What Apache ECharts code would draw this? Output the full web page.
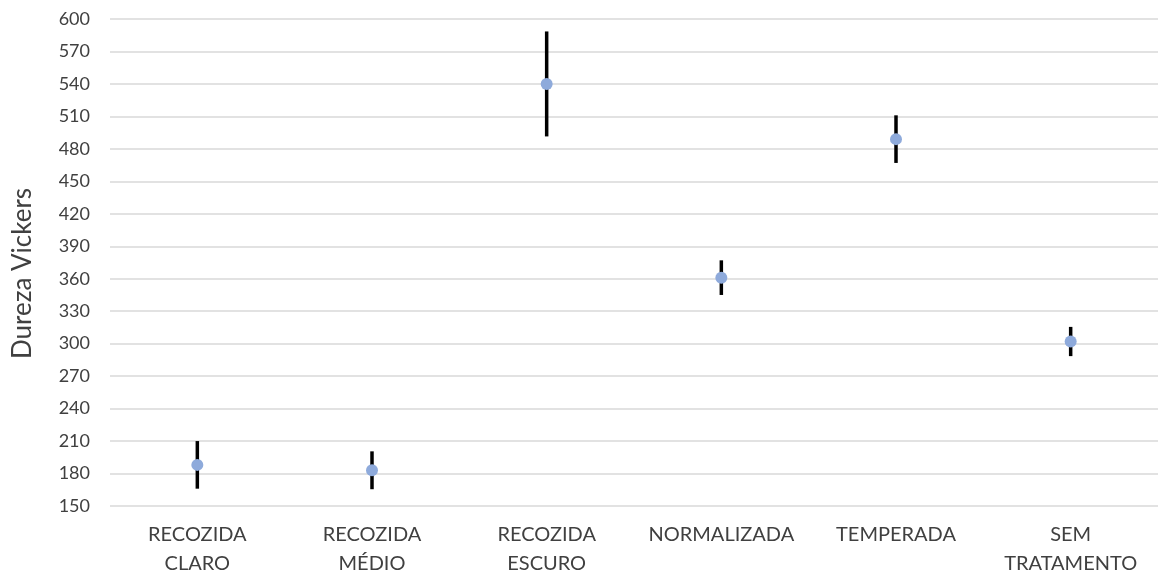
<!DOCTYPE html>
<html><head><meta charset="utf-8">
<script src="https://cdn.jsdelivr.net/npm/echarts@6/dist/echarts.min.js"></script>
<style>html,body{margin:0;padding:0;background:#fff}#c{width:1158px;height:576px}</style>
</head><body><div id="c"></div>
<script>
const categories = ['RECOZIDA\nCLARO','RECOZIDA\nMÉDIO','RECOZIDA\nESCURO','NORMALIZADA','TEMPERADA','SEM\nTRATAMENTO'];
const means = [188, 183, 540, 361, 489, 302];
const errors = [22, 17.5, 48.5, 16, 22, 13.5];
const yTicks = {min:150, max:600, interval:30};

const chart = echarts.init(document.getElementById('c'));
const font = 'Lato, "Open Sans", sans-serif';
chart.setOption({
  animation:false,
  grid:{left:110, right:0, top:19, bottom:70, outerBoundsMode:'none', containLabel:false},
  xAxis:{type:'category', data:categories,
    axisLine:{show:false}, axisTick:{show:false},
    axisLabel:{color:'#404040', fontSize:20, fontFamily:font, lineHeight:29, margin:14, interval:0}},
  yAxis:{type:'value', min:yTicks.min, max:yTicks.max, interval:yTicks.interval,
    name:'Dureza Vickers', nameLocation:'middle', nameGap:74, nameRotate:90,
    nameTextStyle:{color:'#404040', fontSize:26, fontFamily:font, padding:[0,22,0,0]},
    axisLine:{show:false}, axisTick:{show:false},
    axisLabel:{color:'#404040', fontSize:18, fontFamily:font, margin:20},
    splitLine:{lineStyle:{color:'#d9d9d9', width:1.5}}},
  series:[
    {type:'custom', data:means.map((m,i)=>[i, m-errors[i], m+errors[i]]),
     renderItem:function(params, api){
       const lo = api.coord([api.value(0), api.value(1)]);
       const hi = api.coord([api.value(0), api.value(2)]);
       return {type:'line', shape:{x1:lo[0], y1:lo[1], x2:hi[0], y2:hi[1]},
         style:{stroke:'#000', lineWidth:3.5}};
     }, z:2},
    {type:'scatter', data:means, symbolSize:12,
     itemStyle:{color:'#8EAADB', opacity:1}, z:3}
  ]
});
</script></body></html>
